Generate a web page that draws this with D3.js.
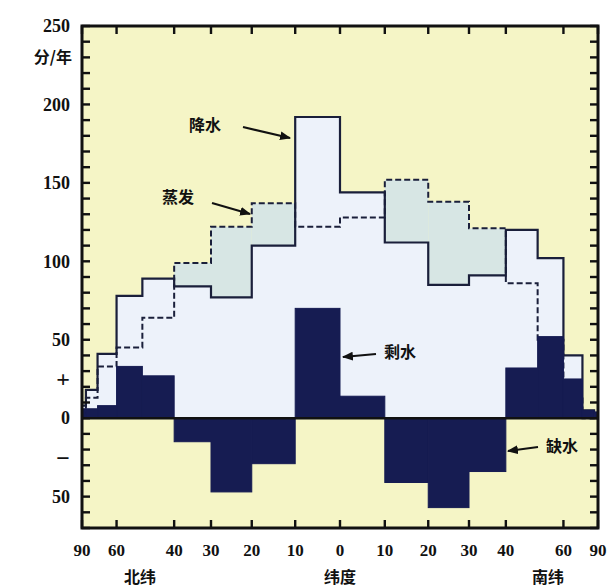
<!DOCTYPE html>
<html>
<head>
<meta charset="utf-8">
<style>
  body { margin: 0; background: #fff; }
  text { font-family: "Liberation Serif", "DejaVu Serif", serif; font-weight: bold; fill: #111; }
  .cjk { font-family: "Noto Sans CJK SC", sans-serif; font-weight: bold; }
</style>
</head>
<body>
<script src="https://cdn.jsdelivr.net/npm/d3@7"></script>
<script>
// 10-degree latitude bands, north (+) to south (-)
var bandEdges = [90, 80, 70, 60, 50, 40, 30, 20, 10, 0, -10, -20, -30, -40, -50, -60, -70, -80, -90];
// precipitation per band
var precip = [8, 18, 41, 78, 89, 84, 77, 110, 192, 144, 112, 85, 91, 120, 102, 40, 5, 3];
// evaporation per band
var evap = [3, 13, 33, 45, 64, 99, 122, 137, 122, 128, 152, 138, 121, 86, 50, 15, 0, 0];
// surplus (+) / deficit (-) per band
var balance = [6, 6, 8, 33, 27, -15, -47, -29, 70, 14, -41, -57, -34, 32, 52, 25, 5, 4];

var xTickLats = [90, 60, 40, 30, 20, 10, 0, -10, -20, -30, -40, -60, -90];
var yTickVals = [250, 200, 150, 100, 50, 25, 0, -25, -50];
var yTickText = ["250", "200", "150", "100", "50", "+", "0", "\u2212", "50"];

var W = 616, H = 587;
var pLeft = 82, pRight = 598, pTop = 26, pBottom = 528;

var svg = d3.select("body").append("svg")
    .attr("width", W).attr("height", H);

var sinDeg = function(d) { return Math.sin(d * Math.PI / 180); };
var xs = d3.scaleLinear().domain([1, -1]).range([pLeft, pRight]);
var x = function(lat) { return xs(sinDeg(lat)); };
var y = d3.scaleLinear().domain([-70, 250]).range([pBottom, pTop]);

var bands = precip.map(function(p, i) {
    return { n: bandEdges[i], s: bandEdges[i + 1], p: p, e: evap[i], b: balance[i] };
});

function stepPoints(key) {
    var pts = [];
    bands.forEach(function(d) {
        pts.push([x(d.n), y(d[key])]);
        pts.push([x(d.s), y(d[key])]);
    });
    return pts;
}

// background
svg.append("rect")
    .attr("x", pLeft).attr("y", pTop)
    .attr("width", pRight - pLeft).attr("height", pBottom - pTop)
    .attr("fill", "#f5f5c6");

// precipitation area
var pPts = stepPoints("p");
svg.append("path")
    .attr("d", d3.area().x(function(d) { return d[0]; }).y0(y(0)).y1(function(d) { return d[1]; })(pPts))
    .attr("fill", "#edf2fa");

// evaporation above precipitation
svg.selectAll(".over")
    .data(bands.filter(function(d) { return d.e > d.p; }))
    .enter().append("rect")
    .attr("x", function(d) { return x(d.n); })
    .attr("width", function(d) { return x(d.s) - x(d.n); })
    .attr("y", function(d) { return y(d.e); })
    .attr("height", function(d) { return y(d.p) - y(d.e); })
    .attr("fill", "#d7e6e4");

var stepLine = d3.line();

// evaporation dashed
svg.append("path")
    .attr("d", stepLine(stepPoints("e")))
    .attr("fill", "none").attr("stroke", "#1a1f3a")
    .attr("stroke-width", 2).attr("stroke-dasharray", "6,3");

// precipitation solid
svg.append("path")
    .attr("d", stepLine(pPts))
    .attr("fill", "none").attr("stroke", "#1a1f3a")
    .attr("stroke-width", 2.2);

// surplus / deficit bars
svg.selectAll(".bal")
    .data(bands)
    .enter().append("rect")
    .attr("x", function(d) { return x(d.n); })
    .attr("width", function(d) { return x(d.s) - x(d.n); })
    .attr("y", function(d) { return y(Math.max(0, d.b)); })
    .attr("height", function(d) { return Math.abs(y(d.b) - y(0)); })
    .attr("fill", "#161c52").attr("stroke", "#161c52").attr("stroke-width", 1);

// zero line
svg.append("line")
    .attr("x1", pLeft).attr("x2", pRight)
    .attr("y1", y(0)).attr("y2", y(0))
    .attr("stroke", "#111").attr("stroke-width", 2.5);

// inward ticks drawn as small rects: every 10 on both sides, at labelled latitudes top and bottom
var minor = d3.range(-70, 251, 10);
var tickG = svg.append("g").attr("fill", "#111");
tickG.selectAll(null).data(minor).enter().append("rect")
    .attr("x", pLeft).attr("width", 8)
    .attr("y", function(d) { return y(d) - 1.2; }).attr("height", 2.4);
tickG.selectAll(null).data(minor).enter().append("rect")
    .attr("x", pRight - 8).attr("width", 8)
    .attr("y", function(d) { return y(d) - 1.2; }).attr("height", 2.4);
tickG.selectAll(null).data(xTickLats).enter().append("rect")
    .attr("x", function(d) { return x(d) - 1.2; }).attr("width", 2.4)
    .attr("y", pBottom - 8).attr("height", 8);
tickG.selectAll(null).data(xTickLats).enter().append("rect")
    .attr("x", function(d) { return x(d) - 1.2; }).attr("width", 2.4)
    .attr("y", pTop).attr("height", 8);

// frame
svg.append("rect")
    .attr("x", pLeft).attr("y", pTop)
    .attr("width", pRight - pLeft).attr("height", pBottom - pTop)
    .attr("fill", "none").attr("stroke", "#111").attr("stroke-width", 3);

// y labels
svg.selectAll(".ylab")
    .data(yTickVals)
    .enter().append("text")
    .attr("x", 70).attr("y", function(d) { return y(d); })
    .attr("dy", "0.35em").attr("text-anchor", "end")
    .style("font-size", function(d, i) { return /[0-9]/.test(yTickText[i]) ? "18px" : "24px"; })
    .text(function(d, i) { return yTickText[i]; });
svg.append("text").attr("class", "cjk")
    .attr("x", 72).attr("y", 63).attr("text-anchor", "end")
    .style("font-size", "16px").text("分/年");

// x labels
svg.selectAll(".xlab")
    .data(xTickLats)
    .enter().append("text")
    .attr("x", function(d) { return x(d); }).attr("y", 556)
    .attr("text-anchor", "middle")
    .style("font-size", "17px")
    .text(function(d) { return Math.abs(d); });
[["北纬", 140], ["纬度", 340], ["南纬", 548]].forEach(function(t) {
    svg.append("text").attr("class", "cjk")
        .attr("x", t[1]).attr("y", 583).attr("text-anchor", "middle")
        .style("font-size", "16px").text(t[0]);
});

// callouts
svg.append("defs").append("marker")
    .attr("id", "arr").attr("viewBox", "0 0 10 10")
    .attr("refX", 9).attr("refY", 5)
    .attr("markerWidth", 5).attr("markerHeight", 5).attr("orient", "auto")
  .append("path").attr("d", "M0,1 L10,5 L0,9 Z").attr("fill", "#111");

var callouts = [
    { t: "降水", tx: 205, ty: 131, x1: 243, y1: 127, x2: 290, y2: 138 },
    { t: "蒸发", tx: 178, ty: 203, x1: 212, y1: 203, x2: 250, y2: 214 },
    { t: "剩水", tx: 400, ty: 358, x1: 376, y1: 354, x2: 343, y2: 357 },
    { t: "缺水", tx: 562, ty: 452, x1: 538, y1: 447, x2: 508, y2: 451 }
];
callouts.forEach(function(c) {
    svg.append("line")
        .attr("x1", c.x1).attr("y1", c.y1).attr("x2", c.x2).attr("y2", c.y2)
        .attr("stroke", "#111").attr("stroke-width", 2.2)
        .attr("marker-end", "url(#arr)");
    svg.append("text").attr("class", "cjk")
        .attr("x", c.tx).attr("y", c.ty).attr("text-anchor", "middle")
        .style("font-size", "16px").text(c.t);
});
</script>
</body>
</html>
